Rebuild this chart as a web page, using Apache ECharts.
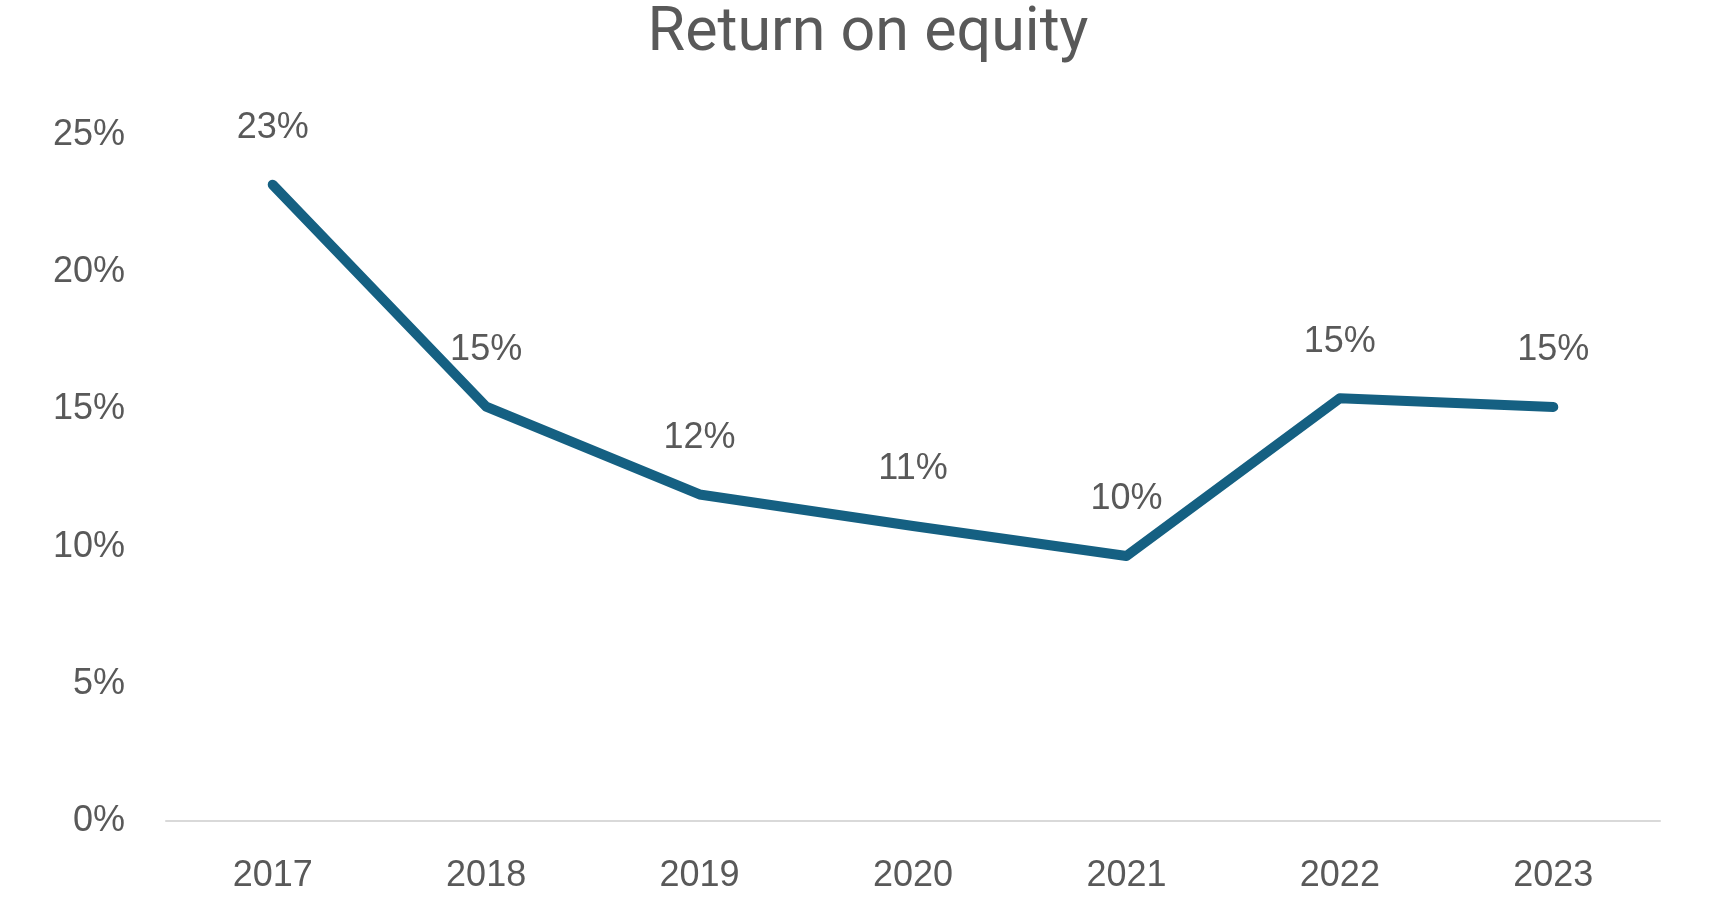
<!DOCTYPE html>
<html>
<head>
<meta charset="utf-8">
<title>Return on equity</title>
<script src="https://cdn.jsdelivr.net/npm/echarts@6/dist/echarts.min.js"></script>
<style>
  html, body { margin: 0; padding: 0; background: #fff; }
  #chart { width: 1710px; height: 922px; }
</style>
</head>
<body>
<div id="chart"></div>
<script>
// values, in percent
var years = ['2017', '2018', '2019', '2020', '2021', '2022', '2023'];
var roe = [23.19, 15.10, 11.90, 10.75, 9.66, 15.41, 15.09];
var yTicks = [0, 5, 10, 15, 20, 25];

var textGrey = '#595959';
var labelFont = '"Liberation Sans", Arial, sans-serif';

var chart = echarts.init(document.getElementById('chart'));
chart.setOption({
	animation: false,
	title: {
		text: 'Return on equity',
		left: 863,
		textAlign: 'center',
		top: 0,
		textStyle: {
			fontFamily: 'Roboto, sans-serif',
			fontSize: 61,
			fontWeight: 'normal',
			color: textGrey,
			lineHeight: 60
		}
	},
	grid: {
		left: 166,
		right: 50,
		top: 135,
		bottom: 101
	},
	xAxis: {
		type: 'category',
		data: years,
		boundaryGap: true,
		axisLine: { show: true, lineStyle: { color: '#d9d9d9', width: 2 } },
		axisTick: { show: false },
		axisLabel: {
			margin: 37,
			fontFamily: labelFont,
			fontSize: 36,
			color: textGrey
		}
	},
	yAxis: {
		type: 'value',
		min: yTicks[0],
		max: yTicks[yTicks.length - 1],
		interval: yTicks[1] - yTicks[0],
		splitLine: { show: false },
		axisLine: { show: false },
		axisTick: { show: false },
		axisLabel: {
			margin: 41,
			fontFamily: labelFont,
			fontSize: 36,
			color: textGrey,
			formatter: '{value}%'
		}
	},
	series: [
		{
			name: 'Return on equity',
			type: 'line',
			data: roe,
			symbol: 'circle',
			symbolSize: 1,
			itemStyle: { color: '#156082' },
			lineStyle: { color: '#156082', width: 10, cap: 'round', join: 'round' },
			label: {
				show: true,
				position: 'top',
				distance: 38,
				fontFamily: labelFont,
				fontSize: 36,
				color: textGrey,
				formatter: function (p) { return Math.round(p.value) + '%'; }
			}
		}
	]
});
</script>
</body>
</html>
